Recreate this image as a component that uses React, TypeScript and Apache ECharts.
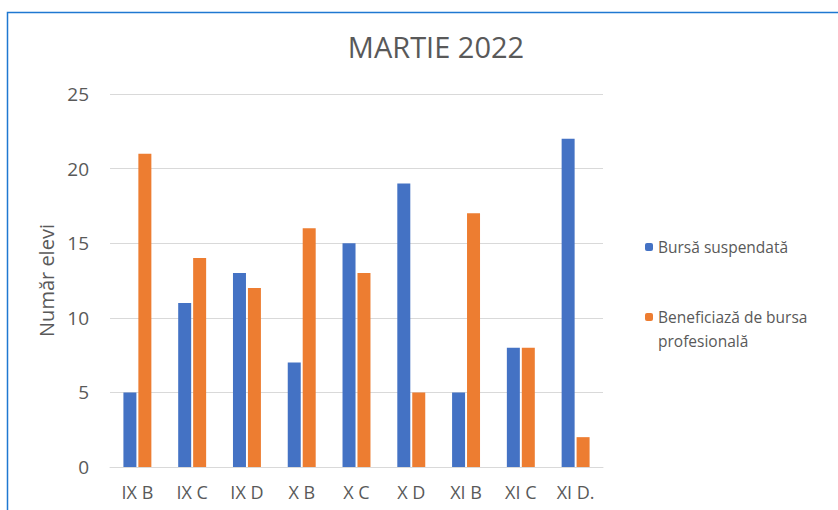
import React, { useEffect, useRef } from "react";
import * as echarts from "echarts";

const categories = ["IX B", "IX C", "IX D", "X B", "X C", "X D", "XI B", "XI C", "XI D."];
const suspendata = [5, 11, 13, 7, 15, 19, 5, 8, 22];
const beneficiaza = [21, 14, 12, 16, 13, 5, 17, 8, 2];
const seriesNames = ["Bursă suspendată", "Beneficiază de bursa profesională"];

const FONT = "Open Sans";
const TEXT = "#595959";

export default function App() {
  const ref = useRef<HTMLDivElement>(null);
  useEffect(() => {
    if (!ref.current) return;
    const chart = echarts.init(ref.current, undefined, { renderer: "svg" });
    chart.setOption({
      animation: false,
      backgroundColor: "#ffffff",
      textStyle: { fontFamily: FONT },
      title: {
        text: "MARTIE 2022",
        left: 431,
        top: 27,
        textAlign: "center",
        textStyle: { fontFamily: FONT, fontSize: 29, fontWeight: "normal", color: TEXT },
      },
      graphic: [
        {
          type: "rect",
          shape: { x: 7.5, y: 12.5, width: 900, height: 600 },
          style: { fill: "none", stroke: "#1f78d1", lineWidth: 1.5 },
          silent: true,
        },
      ],
      legend: [
        {
          orient: "vertical",
          left: 640,
          top: 230,
          itemWidth: 8,
          itemHeight: 8,
          itemGap: 5,
          data: [seriesNames[0]],
          textStyle: { fontFamily: FONT, fontSize: 15.5, color: TEXT, lineHeight: 24 },
        },
        {
          orient: "vertical",
          left: 640,
          top: 276,
          itemWidth: 8,
          itemHeight: 8,
          data: [seriesNames[1]],
          formatter: () => "\nBeneficiază de bursa\nprofesională",
          textStyle: { fontFamily: FONT, fontSize: 15.5, color: TEXT, lineHeight: 24 },
        },
      ],
      grid: { left: 110, right: 235, top: 94, bottom: 43 },
      xAxis: {
        type: "category",
        data: categories,
        axisLine: { lineStyle: { color: "#d9d9d9" } },
        axisTick: { show: false },
        axisLabel: { color: TEXT, fontSize: 18, margin: 16, fontFamily: FONT },
      },
      yAxis: {
        type: "value",
        min: 0,
        max: 25,
        interval: 5,
        name: "Număr elevi",
        nameLocation: "middle",
        nameGap: 53,
        nameTextStyle: { color: TEXT, fontSize: 20, fontFamily: FONT },
        axisLine: { show: false },
        axisTick: { show: false },
        axisLabel: { color: TEXT, fontSize: 19, margin: 21, fontFamily: FONT },
        splitLine: { lineStyle: { color: "#d9d9d9" } },
      },
      series: [
        {
          name: seriesNames[0],
          type: "bar",
          data: suspendata,
          barWidth: 13,
          barGap: "15%",
          itemStyle: { color: "#4472C4" },
        },
        {
          name: seriesNames[1],
          type: "bar",
          data: beneficiaza,
          barWidth: 13,
          itemStyle: { color: "#ED7D31" },
        },
      ],
    });
    return () => chart.dispose();
  }, []);
  return (
    <div
      ref={ref}
      style={{ position: "absolute", left: 0, top: 0, width: 838, height: 510 }}
    />
  );
}
